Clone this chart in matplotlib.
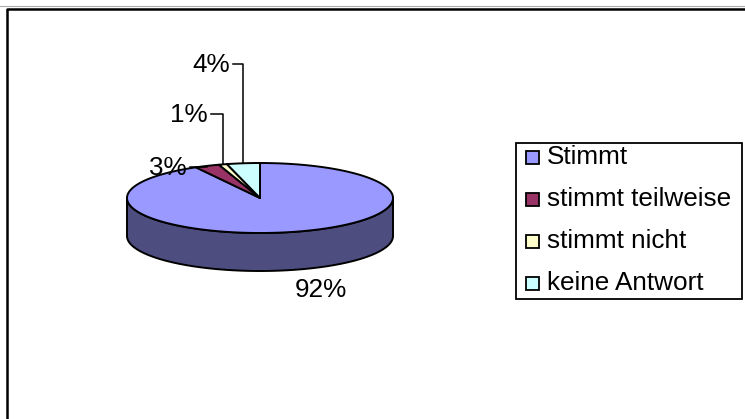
import numpy as np
import matplotlib
matplotlib.use('Agg')
import matplotlib.pyplot as plt
from matplotlib.patches import Polygon, Rectangle

categories = ['Stimmt', 'stimmt teilweise', 'stimmt nicht', 'keine Antwort']
shares = [92, 3, 1, 4]
top_colors = ['#9999FF', '#993366', '#FFFFCC', '#CCFFFF']
side_colors = ['#4D4D80', '#4D1A33', '#808066', '#668080']

plt.rcParams['font.family'] = ['Liberation Sans', 'DejaVu Sans']
FS = 18.8

W, H = 745, 419
fig = plt.figure(figsize=(W / 100, H / 100), dpi=100)
ax = fig.add_axes([0, 0, 1, 1])
ax.set_xlim(0, W)
ax.set_ylim(H, 0)
ax.axis('off')

# outer chart frame (runs off the right and bottom)
ax.plot([0, W], [6.5, 6.5], color='#aaaaaa', lw=0.8)
ax.plot([7, 7, W], [H, 9, 9], color='black', lw=1.8)

# 3d pie geometry, angles clockwise from 12 o'clock
cx, cy, rx, ry, depth = 260, 198, 133, 35, 38


def rim(a, dy=0.0):
    a = np.radians(a)
    return np.column_stack([cx + rx * np.sin(a), cy - ry * np.cos(a) + dy])


bounds = np.concatenate([[0], np.cumsum(shares)]) * 3.6

# front wall
for i in range(len(shares)):
    lo, hi = max(bounds[i], 90), min(bounds[i + 1], 270)
    if lo < hi:
        arc = np.linspace(lo, hi, 120)
        pts = np.vstack([rim(arc), rim(arc[::-1], depth)])
        ax.add_patch(Polygon(pts, closed=True, fc=side_colors[i], ec='black', lw=1.4))

# top faces
for i in range(len(shares)):
    arc = np.linspace(bounds[i], bounds[i + 1], 200)
    pts = np.vstack([[cx, cy], rim(arc)])
    ax.add_patch(Polygon(pts, closed=True, fc=top_colors[i], ec='black', lw=1.4,
                         joinstyle='round'))

# percentage labels
label_xy = [(321, 290), (187, 168), (208, 115), (230, 65)]
for i, (v, (lx, ly)) in enumerate(zip(shares, label_xy)):
    mid = (bounds[i] + bounds[i + 1]) / 2
    if i == 0:
        ax.text(lx, ly, f'{v}%', fontsize=FS, ha='center', va='center')
        continue
    ax.text(lx, ly, f'{v}%', fontsize=FS, ha='right', va='center')
    px, py = rim([mid])[0]
    ax.plot([lx + 3, px, px], [ly - 1, ly - 1, py], color='black', lw=1.1)

# legend
ax.add_patch(Rectangle((516, 143), 226, 156, fc='white', ec='black', lw=1.3))
for i, name in enumerate(categories):
    ry0 = 157 + 42 * i
    ax.add_patch(Rectangle((526, ry0 - 6.5), 13, 13, fc=top_colors[i], ec='black', lw=1.3))
    ax.text(547, ry0, name, fontsize=FS, ha='left', va='center')

fig.savefig('out.png', dpi=100)
